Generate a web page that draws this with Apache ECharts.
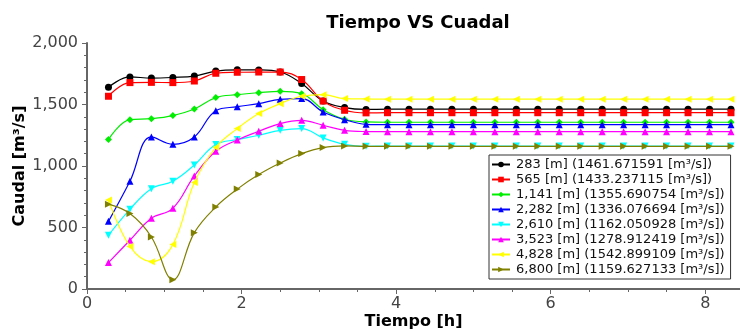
<!DOCTYPE html>
<html>
<head>
<meta charset="utf-8">
<script src="https://cdn.jsdelivr.net/npm/echarts@6/dist/echarts.min.js"></script>
<style>
  html, body { margin: 0; padding: 0; background: #fff; }
  #chart { width: 740px; height: 329px; }
</style>
</head>
<body>
<div id="chart"></div>
<script>
// Sampling times in hours (one sample every 1000 s)
const tiempo = [0.2778, 0.5556, 0.8333, 1.1111, 1.3889, 1.6667, 1.9444, 2.2222, 2.5, 2.7778,
  3.0556, 3.3333, 3.6111, 3.8889, 4.1667, 4.4444, 4.7222, 5.0, 5.2778, 5.5556,
  5.8333, 6.1111, 6.3889, 6.6667, 6.9444, 7.2222, 7.5, 7.7778, 8.0556, 8.3333];

// Discharge (m3/s) at each station
const q283 = [1640, 1724, 1715, 1720, 1731, 1772, 1782, 1781, 1764, 1670, 1528, 1475, 1460, 1461.7, 1461.7,
  1461.7, 1461.7, 1461.7, 1461.7, 1461.7, 1461.7, 1461.7, 1461.7, 1461.7, 1461.7, 1461.7, 1461.7, 1461.7, 1461.7, 1461.7];
const q565 = [1567, 1678, 1680, 1678, 1691, 1754, 1762, 1764, 1764, 1703, 1528, 1453, 1432, 1433.2, 1433.2,
  1433.2, 1433.2, 1433.2, 1433.2, 1433.2, 1433.2, 1433.2, 1433.2, 1433.2, 1433.2, 1433.2, 1433.2, 1433.2, 1433.2, 1433.2];
const q1141 = [1215, 1377, 1385, 1410, 1463, 1556, 1580, 1596, 1607, 1588, 1458, 1380, 1358, 1355.7, 1355.7,
  1355.7, 1355.7, 1355.7, 1355.7, 1355.7, 1355.7, 1355.7, 1355.7, 1355.7, 1355.7, 1355.7, 1355.7, 1355.7, 1355.7, 1355.7];
const q2282 = [550, 876, 1236, 1176, 1236, 1450, 1482, 1507, 1542, 1548, 1439, 1377, 1339, 1336.1, 1336.1,
  1336.1, 1336.1, 1336.1, 1336.1, 1336.1, 1336.1, 1336.1, 1336.1, 1336.1, 1336.1, 1336.1, 1336.1, 1336.1, 1336.1, 1336.1];
const q2610 = [437, 648, 816, 876, 1008, 1174, 1215, 1250, 1290, 1304, 1228, 1176, 1160, 1162.1, 1162.1,
  1162.1, 1162.1, 1162.1, 1162.1, 1162.1, 1162.1, 1162.1, 1162.1, 1162.1, 1162.1, 1162.1, 1162.1, 1162.1, 1162.1, 1162.1];
const q3523 = [215, 396, 575, 656, 919, 1120, 1212, 1282, 1345, 1371, 1331, 1290, 1280, 1278.9, 1278.9,
  1278.9, 1278.9, 1278.9, 1278.9, 1278.9, 1278.9, 1278.9, 1278.9, 1278.9, 1278.9, 1278.9, 1278.9, 1278.9, 1278.9, 1278.9];
const q4828 = [724, 346, 222, 361, 865, 1152, 1304, 1426, 1507, 1567, 1580, 1548, 1545, 1542.9, 1542.9,
  1542.9, 1542.9, 1542.9, 1542.9, 1542.9, 1542.9, 1542.9, 1542.9, 1542.9, 1542.9, 1542.9, 1542.9, 1542.9, 1542.9, 1542.9];
const q6800 = [690, 613, 423, 76, 458, 667, 812, 930, 1024, 1101, 1150, 1163, 1160, 1159.6, 1159.6,
  1159.6, 1159.6, 1159.6, 1159.6, 1159.6, 1159.6, 1159.6, 1159.6, 1159.6, 1159.6, 1159.6, 1159.6, 1159.6, 1159.6, 1159.6];

const seriesNames = [
  '283 [m] (1461.671591 [m³/s])',
  '565 [m] (1433.237115 [m³/s])',
  '1,141 [m] (1355.690754 [m³/s])',
  '2,282 [m] (1336.076694 [m³/s])',
  '2,610 [m] (1162.050928 [m³/s])',
  '3,523 [m] (1278.912419 [m³/s])',
  '4,828 [m] (1542.899109 [m³/s])',
  '6,800 [m] (1159.627133 [m³/s])'
];

const yTicks = { min: 0, max: 2000, step: 500 };
const xTicks = { min: 0, max: 8.45, step: 2 };

const styles = [
  { values: q283, color: '#000000', symbol: 'circle', rotate: 0, size: 7 },
  { values: q565, color: '#ff0000', symbol: 'rect', rotate: 0, size: 7 },
  { values: q1141, color: '#00ee00', symbol: 'diamond', rotate: 0, size: 7 },
  { values: q2282, color: '#0000ff', symbol: 'triangle', rotate: 0, size: 7 },
  { values: q2610, color: '#00ffff', symbol: 'triangle', rotate: 180, size: 7 },
  { values: q3523, color: '#ff00ff', symbol: 'triangle', rotate: 0, size: 7 },
  { values: q4828, color: '#ffff00', symbol: 'triangle', rotate: 90, size: 7 },
  { values: q6800, color: '#808000', symbol: 'triangle', rotate: -90, size: 7 }
];

const fmtThousands = v => {
  const s = String(Math.round(v));
  return s.replace(/\B(?=(\d{3})+(?!\d))/g, ',');
};

const series = styles.map((s, i) => ({
  name: seriesNames[i],
  type: 'line',
  smooth: 0.4,
  data: tiempo.map((t, k) => [t, s.values[k]]),
  symbol: s.symbol,
  symbolSize: s.size,
  symbolRotate: s.rotate,
  showAllSymbol: true,
  lineStyle: { color: s.color, width: 1.2 },
  itemStyle: { color: s.color },
  emphasis: { disabled: true },
  z: 2 + i
}));

const chart = echarts.init(document.getElementById('chart'), null, { renderer: 'canvas' });
chart.setOption({
  animation: false,
  backgroundColor: '#ffffff',
  textStyle: { fontFamily: 'DejaVu Sans' },
  title: {
    text: 'Tiempo VS Cuadal',
    left: 413,
    textAlign: 'center',
    top: 9,
    textStyle: { fontFamily: 'DejaVu Sans', fontWeight: 'bold', fontSize: 18, color: '#000' }
  },
  grid: { left: 87, right: 0, top: 43, bottom: 40, containLabel: false, outerBoundsMode: 'none' },
  legend: {
    orient: 'vertical',
    left: 489,
    top: 155,
    padding: [3, 6, 3, 2],
    itemGap: 2,
    itemWidth: 18,
    itemHeight: 7,
    borderColor: '#333',
    borderWidth: 1,
    borderRadius: 0,
    backgroundColor: '#ffffff',
    selectedMode: false,
    textStyle: { fontFamily: 'DejaVu Sans', fontSize: 13, color: '#111', lineHeight: 13, padding: [0, 0, 0, 1] },
    data: seriesNames
  },
  xAxis: {
    type: 'value',
    min: xTicks.min,
    max: xTicks.max,
    interval: xTicks.step,
    name: 'Tiempo [h]',
    nameLocation: 'middle',
    nameGap: 25,
    nameMoveOverlap: false,
    nameTextStyle: { fontFamily: 'DejaVu Sans', fontWeight: 'bold', fontSize: 16, color: '#000' },
    axisLine: { show: true, lineStyle: { color: '#666', width: 2 } },
    axisTick: { show: true, length: 5, lineStyle: { color: '#666', width: 1 } },
    minorTick: { show: true, splitNumber: 4, length: 3, lineStyle: { color: '#666' } },
    axisLabel: { fontFamily: 'DejaVu Sans', fontSize: 16, color: '#444', margin: 7, showMaxLabel: false },
    splitLine: { show: false }
  },
  yAxis: {
    type: 'value',
    min: yTicks.min,
    max: yTicks.max,
    interval: yTicks.step,
    name: 'Caudal [m³/s]',
    nameLocation: 'middle',
    nameGap: 59,
    nameMoveOverlap: false,
    nameTextStyle: { fontFamily: 'DejaVu Sans', fontWeight: 'bold', fontSize: 16, color: '#000' },
    axisLine: { show: true, lineStyle: { color: '#666', width: 2 } },
    axisTick: { show: true, length: 5, lineStyle: { color: '#666', width: 1 } },
    minorTick: { show: true, splitNumber: 5, length: 3, lineStyle: { color: '#666' } },
    axisLabel: { fontFamily: 'DejaVu Sans', fontSize: 16, color: '#444', margin: 9, formatter: fmtThousands },
    splitLine: { show: false }
  },
  series: series
});
</script>
</body>
</html>
